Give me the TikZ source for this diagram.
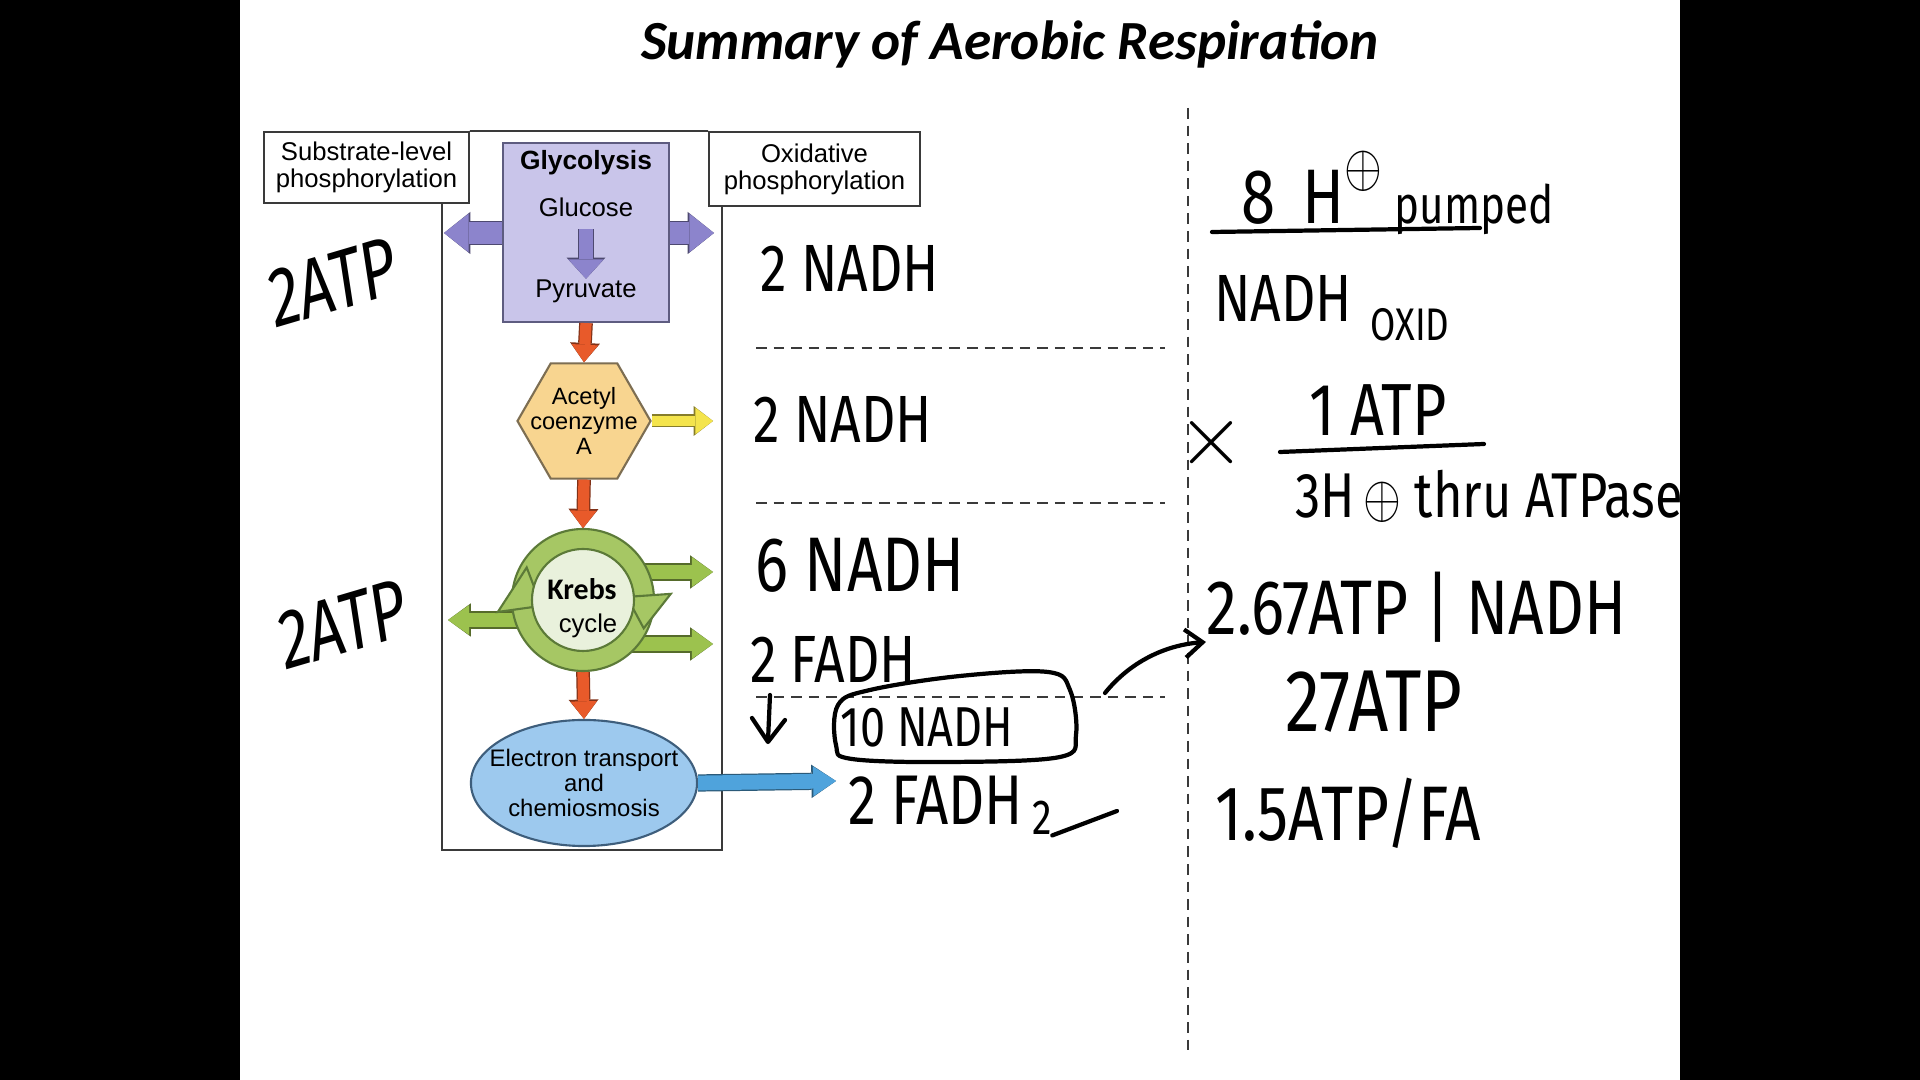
\documentclass[tikz,border=0pt]{standalone}
\usepackage{fontspec}
\setmainfont{Liberation Sans}
\newfontfamily\titlefont{Carlito}
\newfontfamily\handfont{Fira Sans}
\usepackage{tikz}
\usetikzlibrary{positioning,arrows.meta,shapes.geometric,calc}

\definecolor{glyfill}{HTML}{C9C5EA}
\definecolor{glyedge}{HTML}{5E5C80}
\definecolor{purparr}{HTML}{8C84CC}
\definecolor{orgarr}{HTML}{E85A2A}
\definecolor{hexfill}{HTML}{F8D590}
\definecolor{hexedge}{HTML}{7D6E52}
\definecolor{yelarr}{HTML}{F4E44C}
\definecolor{krebsring}{HTML}{A6C764}
\definecolor{krebsin}{HTML}{E9F1DC}
\definecolor{krebsedge}{HTML}{5C7A38}
\definecolor{grnarr}{HTML}{9CC24E}
\definecolor{etcfill}{HTML}{9DC9EE}
\definecolor{etcedge}{HTML}{3E5E7C}
\definecolor{bluarr}{HTML}{4FA3DC}
\definecolor{frameln}{HTML}{3A3A3A}

\newcommand{\hplus}[1]{{\fontsize{#1}{#1}\selectfont$\oplus$}}

\begin{document}
\begin{tikzpicture}[x=0.01cm,y=-0.01cm,>=Latex,
  phbox/.style={draw=frameln,line width=0.5pt,align=center,inner sep=0pt,
    font=\fontsize{7.3}{7.7}\selectfont},
  lbl/.style={align=center,inner sep=0pt,font=\fontsize{#1}{#1}\selectfont},
  hand/.style={font=\handfont\fontsize{#1}{#1}\selectfont,inner sep=0pt,xscale=.8},
  hline/.style={line width=1.2pt,line cap=round,line join=round},
  blk/.style n args={4}{draw=#1,line width=#2,
    -{Triangle[length=#3,width=#4,line width=0pt]},
    preaction={draw=#1!55!black,line width=#2+0.7pt,
      -{Triangle[length=#3+0.5pt,width=#4+1pt,line width=0pt]}}}]
\useasboundingbox (0,0) rectangle (1920,1080);
\fill[white] (0,0) rectangle (1920,1080);

\node[font=\titlefont\bfseries\itshape\fontsize{15.7}{18}\selectfont] (title) at (1010,44) {Summary of Aerobic Respiration};

% frame and side boxes
\node[phbox,minimum width=2.05cm,minimum height=0.71cm] (subbox) at (366.5,167.5) {Substrate-level\\phosphorylation};
\node[phbox,minimum width=2.11cm,minimum height=0.74cm] (oxbox) at (814.5,169) {Oxidative\\phosphorylation};
\draw[frameln,line width=0.5pt] (subbox.north east) -- (oxbox.north west);
\draw[frameln,line width=0.5pt] (442,203) -- (442,850) -- (722,850) -- (722,206);

% pathway nodes
\node[draw=glyedge,fill=glyfill,line width=0.6pt,minimum width=1.66cm,minimum height=1.79cm] (glyc) at (586,232.5) {};
\node[lbl=7.5,font=\bfseries\fontsize{7.5}{8}\selectfont] (glyt) at (586,163) {Glycolysis};
\node[lbl=7.3] (gluc) at (586,207) {Glucose};
\node[lbl=7.3] (pyr) at (586,291) {Pyruvate};
\node[regular polygon,regular polygon sides=6,draw=hexedge,fill=hexfill,line width=0.6pt,
  minimum size=1.33cm,inner sep=0pt] (acetyl) at (584,421) {};
\node[align=center,inner sep=0pt,font=\fontsize{6.7}{7.1}\selectfont] (actxt) at (acetyl) {Acetyl\\coenzyme\\A};
\node[circle,minimum size=1.42cm,inner sep=0pt] (krebs) at (583,600) {};
\node[ellipse,draw=etcedge,fill=etcfill,line width=0.6pt,minimum width=2.26cm,minimum height=1.26cm,
  inner sep=0pt] (etc) at (584,783) {};
\node[align=center,inner sep=0pt,font=\fontsize{6.8}{7.2}\selectfont] (etctxt) at (etc) {Electron transport\\and\\chemiosmosis};

% free ends of the side arrows
\coordinate (pl) at (444,233);
\coordinate (pr) at (714,233);
\coordinate (yr) at (713,421);
\coordinate (gru) at (713,572);
\coordinate (grd) at (713,644);
\coordinate (gl) at (448,620);
\coordinate (br) at (836,781);

% arrows
\draw[blk={purparr}{6pt}{7pt}{11pt}] (glyc.west |- pl) -- (pl);
\draw[blk={purparr}{6pt}{7pt}{11pt}] (glyc.east |- pr) -- (pr);
\draw[blk={purparr}{4pt}{5.5pt}{10pt}] (gluc.south) ++(0,12) coordinate (gin) -- (gin |- pyr.north);
\draw[blk={orgarr}{3.2pt}{5pt}{7.5pt}] (glyc.south) -- (acetyl.north);
\draw[blk={yelarr}{3pt}{5pt}{7.5pt}] (acetyl.east) -- (yr);
\draw[blk={orgarr}{3.2pt}{5pt}{7.5pt}] (acetyl.south) -- (krebs.north);
\draw[blk={orgarr}{3.2pt}{5pt}{7.5pt}] (krebs.south) -- (etc.north);
\draw[blk={grnarr}{4.2pt}{6pt}{8.5pt}] (krebs.center |- gru) -- (gru);
\draw[blk={grnarr}{4.2pt}{6pt}{8.5pt}] (krebs.center |- grd) -- (grd);
\draw[blk={grnarr}{4.2pt}{6pt}{8.5pt}] (krebs.center |- gl) -- (gl);
\draw[blk={bluarr}{4.2pt}{6.5pt}{8.5pt}] (etc.east) -- (br);

% Krebs ring
\begin{scope}[shift={(krebs.center)},yscale=-1]
  \fill[krebsring,draw=krebsedge,line width=0.6pt] (0,0) circle (71);
  \fill[krebsring,draw=krebsedge,line width=0.6pt] (188:42) -- (188:86) -- (150:65) -- cycle;
  \fill[krebsring,draw=krebsedge,line width=0.6pt] (4:44) -- (4:88) -- (-25:67) -- cycle;
  \fill[krebsin,draw=krebsedge,line width=0.6pt] (0,0) circle (51);
\end{scope}
\node[lbl=8.5,font=\titlefont\bfseries\fontsize{8.5}{9}\selectfont] (kt) at (582,589) {Krebs};
\node[lbl=7.3] (kc) at (588,626) {cycle};

% dividers
\draw[frameln,densely dashed,line width=0.4pt] (756,348) -- (1165,348);
\draw[frameln,densely dashed,line width=0.4pt] (756,503) -- (1165,503);
\draw[frameln,densely dashed,line width=0.4pt] (756,697) -- (1165,697);
\draw[frameln,densely dashed,line width=0.4pt] (1188,108) -- (1188,1055);

% handwriting, left
\node[hand=24,xscale=.9,rotate=12] (atpA) at (333,282) {2ATP};
\node[hand=24,xscale=.9,rotate=12] (atpB) at (343,624) {2ATP};
\node[hand=19] (nadhA) at (850,268) {2 NADH};
\node[hand=19] (nadhB) at (843,419) {2 NADH};
\node[hand=22] (nadhC) at (860,565) {6 NADH};
\node[hand=19] (fadhA) at (833,659) {2 FADH};
\node[hand=16] (nadhT) at (927,727) {10 NADH};
\node[hand=20] (fadhB) at (936,800) {2 FADH};
\node[hand=14] (fsub) at (1042,818) {2};
\draw[hline] (fsub.south east) -- (1117,811);
\draw[hline] plot[smooth cycle,tension=.6] coordinates {(838,705) (836,745) (852,759) (950,762) (1060,757) (1076,735) (1070,690) (1048,672) (960,676) (870,690)};
\draw[hline] (770,695) -- (768,741);
\draw[hline] (752,718) -- (768,742) -- (785,720);
\coordinate (tail) at (1105,693);

% handwriting, right
\node[hand=22] (pump) at (1312,188) {8\, H\raisebox{0.9ex}{\hplus{17}}};
\node[hand=15] (pumped) at (1474,209) {pumped};
\draw[hline] (1212,232) -- (1480,228);
\node[hand=19] (nadhO) at (1283,298) {NADH};
\node[hand=13] (oxid) at (1410,325) {OXID};
\node[font=\fontsize{26}{26}\selectfont,inner sep=0pt] (times) at (1212,443) {$\times$};
\node[hand=21] (oneatp) at (1378,410) {1 ATP};
\draw[hline] (1280,452) -- (1484,444);
\node[hand=18,anchor=west] (threeh) at (1295,496) {3H\,\hplus{16} thru ATPase};
\node[hand=22,anchor=west] (rate) at (1206,607) {2.67ATP | NADH};
\node[hand=25] (tot) at (1374,702) {27ATP};
\node[hand=22,anchor=west] (fad) at (1215,813) {1.5ATP/FA};
\coordinate (head) at (1206,642);
\draw[hline,-{Straight Barb[length=5pt,width=8pt]}] (tail) .. controls (1130,662) and (1165,645) .. (head);

% slide edges
\fill[black] (0,0) rectangle (240,1080);
\fill[black] (1680,0) rectangle (1920,1080);
\end{tikzpicture}
\end{document}
